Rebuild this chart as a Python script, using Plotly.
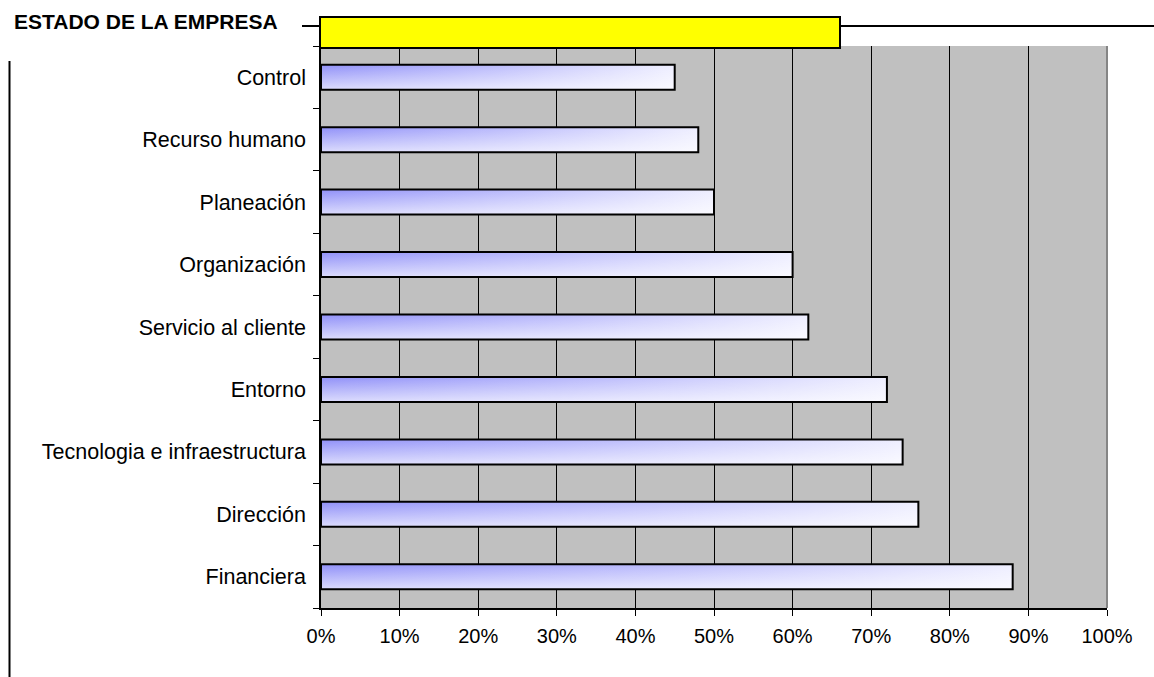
import plotly.graph_objects as go

# Areas evaluated, listed top to bottom, with their score (fraction of 1)
categorias = [
    "Control",
    "Recurso humano",
    "Planeación",
    "Organización",
    "Servicio al cliente",
    "Entorno",
    "Tecnologia e infraestructura",
    "Dirección",
    "Financiera",
]
valores = [0.45, 0.48, 0.50, 0.60, 0.62, 0.72, 0.74, 0.76, 0.88]

x_ticks = [0, 0.1, 0.2, 0.3, 0.4, 0.5, 0.6, 0.7, 0.8, 0.9, 1.0]
x_tick_labels = ["0%", "10%", "20%", "30%", "40%", "50%", "60%", "70%", "80%", "90%", "100%"]

titulo = "ESTADO DE LA EMPRESA"

# Page geometry (pixels)
W, H = 1154, 677
ML, MR, MT, MB = 321, 47, 46, 69
PW, PH = W - ML - MR, H - MT - MB

FONT = "Arial, Liberation Sans, sans-serif"
BAR_HALF = 0.2


def px(xp):
    return (xp - ML) / PW


def py(yp):
    return (H - MB - yp) / PH


n = len(categorias)
posiciones = [n - 1 - i for i in range(n)]

fig = go.Figure()

for cat, val, pos in zip(categorias, valores, posiciones):
    xs = [0, val, val, 0, 0]
    ys = [pos - BAR_HALF, pos - BAR_HALF, pos + BAR_HALF, pos + BAR_HALF, pos - BAR_HALF]
    # base: blue on the left fading to white on the right
    fig.add_trace(go.Scatter(
        x=xs, y=ys, mode="lines", fill="toself",
        fillgradient=dict(type="horizontal",
                          colorscale=[[0, "#9090F8"], [0.5, "#BCBCFC"],
                                      [1, "#EEEEFF"]]),
        line=dict(width=0), hoverinfo="skip", showlegend=False,
    ))
    # overlay: lightens toward the bottom edge, with the black outline
    fig.add_trace(go.Scatter(
        x=xs, y=ys, mode="lines", fill="toself",
        fillgradient=dict(type="vertical",
                          colorscale=[[0, "rgba(255,255,255,0.68)"],
                                      [1, "rgba(255,255,255,0)"]]),
        line=dict(color="black", width=2),
        name=cat, hovertemplate=cat + ": %{x:.0%}<extra></extra>",
        showlegend=False,
    ))

fig.update_layout(
    width=W, height=H,
    margin=dict(l=ML, r=MR, t=MT, b=MB),
    paper_bgcolor="white",
    plot_bgcolor="#C0C0C0",
    font=dict(family=FONT, size=20, color="black"),
    showlegend=False,
    xaxis=dict(
        range=[0, 1], tickvals=x_ticks, ticktext=x_tick_labels,
        showgrid=True, gridcolor="black", gridwidth=1,
        showline=True, linecolor="black", linewidth=1.5,
        ticks="outside", ticklen=6, tickcolor="black", tickwidth=1,
        ticklabelstandoff=3,
        zeroline=False, fixedrange=True,
        tickfont=dict(size=20),
    ),
    yaxis=dict(
        range=[-0.5, n - 0.5], tickvals=posiciones, ticktext=categorias,
        showgrid=False, zeroline=False,
        showline=True, linecolor="black", linewidth=1.5,
        ticks="", ticklabelstandoff=9,
        minor=dict(ticks="outside", ticklen=6, tickcolor="black",
                   tickwidth=1, tick0=0.5, dtick=1, showgrid=False),
        fixedrange=True,
        tickfont=dict(size=21.5),
    ),
    shapes=[
        # right border of plot area
        dict(type="line", xref="paper", yref="paper",
             x0=1, x1=1, y0=0, y1=1, line=dict(color="#858585", width=2)),
        # horizontal rule through the header
        dict(type="line", xref="paper", yref="paper",
             x0=px(302), x1=px(319), y0=py(26), y1=py(26),
             line=dict(color="black", width=2)),
        dict(type="line", xref="paper", yref="paper",
             x0=px(840), x1=px(W + 2), y0=py(26), y1=py(26),
             line=dict(color="black", width=2)),
        # yellow header box
        dict(type="rect", xref="paper", yref="paper",
             x0=px(320), x1=px(840), y0=py(48), y1=py(17),
             fillcolor="#FFFF00", line=dict(color="black", width=2)),
        # left vertical rule
        dict(type="line", xref="paper", yref="paper",
             x0=px(9.5), x1=px(9.5), y0=py(61), y1=py(H + 2),
             line=dict(color="black", width=2)),
    ],
    annotations=[
        dict(text="<b>" + titulo + "</b>", xref="paper", yref="paper",
             x=px(12), y=py(21), xanchor="left", yanchor="middle",
             showarrow=False, font=dict(family=FONT, size=21, color="black")),
    ],
)

fig.write_html("out.html")
